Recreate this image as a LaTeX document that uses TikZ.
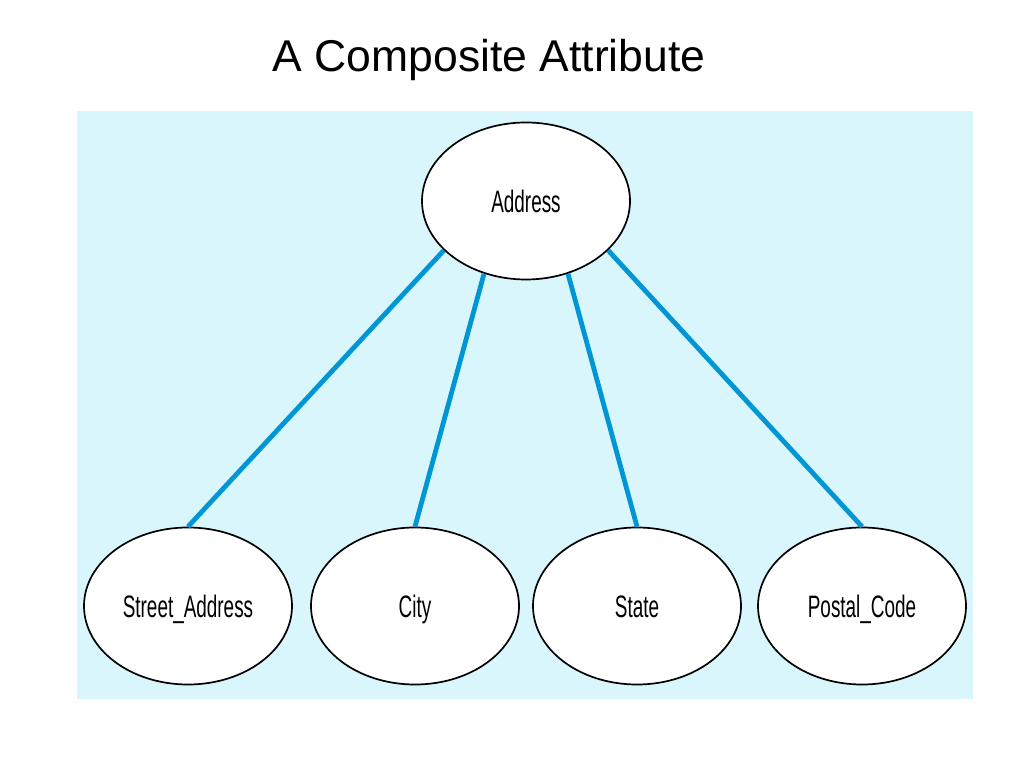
\documentclass[tikz,border=0pt]{standalone}
\usepackage{fontspec}
\setmainfont{Liberation Sans}
\newfontfamily\narrowfont[FakeStretch=0.61]{Liberation Sans}
\usetikzlibrary{shapes.geometric}
\definecolor{panel}{RGB}{216,246,252}
\definecolor{linkblue}{RGB}{0,150,214}
\begin{document}
\begin{tikzpicture}[x=1pt,y=1pt,line join = round,
  attr/.style={ellipse,draw,line width=1.7pt,fill=white,minimum width=208pt,minimum height=157pt,inner sep=0pt,text height=24pt,text depth=0pt,font=\narrowfont\fontsize{31}{36}\selectfont},
  conn/.style={draw=linkblue,line width=4.8pt}]
\useasboundingbox (0,0) rectangle (1024,768);
\node[anchor=base,font=\fontsize{44.5}{52}\selectfont] (title) at (489,696) {A Composite Attribute};
\fill[panel] (77,69) rectangle (973,657);
\node[attr] (addr) at (526,567) {Address};
\foreach \n/\x/\t in {street/188/Street\_Address,city/415/City,state/637/State,postal/862/Postal\_Code}
  \node[attr] (\n) at (\x,162) {\t};
\foreach \n/\a in {street/211,city/240,state/300,postal/329}
  \draw[conn] (addr.\a)--(\n.north);
\end{tikzpicture}
\end{document}
